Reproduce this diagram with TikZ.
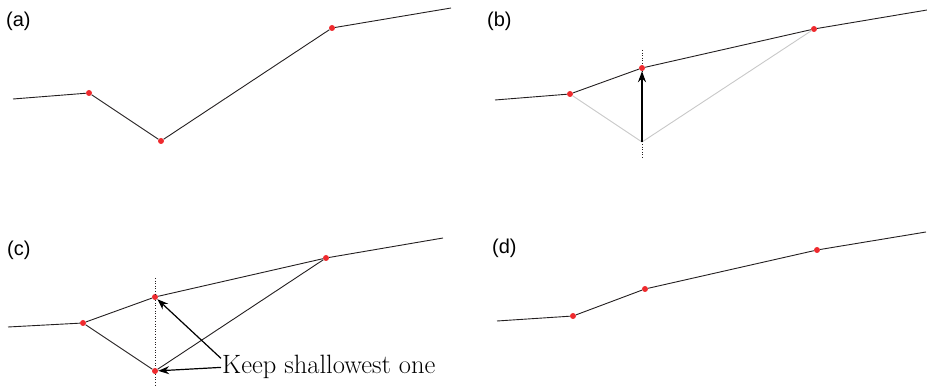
\documentclass[tikz,border=0pt]{standalone}
\usepackage{fontspec}
\setsansfont{Liberation Sans}
\usetikzlibrary{arrows.meta, positioning}
\definecolor{cLine}{HTML}{231F20}
\definecolor{cDot}{HTML}{EE2A2E}
\definecolor{cGuide}{HTML}{C8C8C8}

\begin{document}
\begin{tikzpicture}[
    x=1pt, y=-1pt,
    >={Stealth[length=11pt, width=8pt]},
    % Point and label styles
    dot/.style={circle, fill=cDot, inner sep=0pt, minimum size=6pt},
    panel_label/.style={anchor=west, font=\sffamily\fontsize{20}{24}\selectfont, inner sep=0pt},
    note/.style={anchor=base west, font=\fontsize{26.5}{30}\selectfont, inner sep=1pt},
    % Line styles
    curve/.style={draw=cLine, line width=0.9pt},
    guide/.style={draw=cGuide, line width=0.9pt},
    probe/.style={draw=cLine, dotted, line width=0.6pt},
    arrow/.style={->, draw=black, line width=1.2pt}
]
\useasboundingbox (0,0) rectangle (927,387);

% --- PANEL (a) ---
\node[panel_label] (la) at (6,21) {(a)};
\coordinate (a0) at (13,99);
\node[dot] (a1) at (89,93) {};
\node[dot] (a2) at (161,141) {};
\node[dot] (a3) at (332,28) {};
\coordinate (a4) at (451,8);
\draw[curve] (a0) -- (a1) -- (a2) -- (a3) -- (a4);

% --- PANEL (b) ---
\node[panel_label] (lb) at (487,21) {(b)};
\coordinate (b0) at (495,100);
\node[dot] (b1) at (570,94) {};
\node[dot] (b2) at (642,68) {};
\node[dot] (b3) at (814,29) {};
\coordinate (b4) at (927,10);
\coordinate (b2low) at (642,142);
\coordinate (btop) at (642,50);
\coordinate (bbot) at (642,158);
\draw[probe] (btop) -- (b2) -- (bbot);
\draw[guide] (b1) -- (b2low) -- (b3);
\draw[arrow] (b2low) -- (b2);
\draw[curve] (b0) -- (b1) -- (b2) -- (b3) -- (b4);

% --- PANEL (c) ---
\node[panel_label] (lc) at (7,250) {(c)};
\coordinate (c0) at (8,327);
\node[dot] (c1) at (83,323) {};
\node[dot] (c2) at (155,297) {};
\node[dot] (c3) at (326,258) {};
\coordinate (c4) at (443,238);
\node[dot] (c2low) at (155,371) {};
\coordinate (ctop) at (155,278);
\coordinate (cbot) at (155,387);
\draw[probe] (ctop) -- (c2) -- (c2low) -- (cbot);
\draw[curve] (c0) -- (c1) -- (c2) -- (c3) -- (c4);
\draw[curve] (c1) -- (c2low) -- (c3);

\node[note] (keep) at (221,374) {Keep shallowest one};
\draw[arrow] ([yshift=9pt]keep.west) -- (c2);
\draw[arrow] (keep.west) -- (c2low);

% --- PANEL (d) ---
\node[panel_label] (ld) at (492,248) {(d)};
\coordinate (d0) at (497,321);
\node[dot] (d1) at (573,316) {};
\node[dot] (d2) at (645,289) {};
\node[dot] (d3) at (817,250) {};
\coordinate (d4) at (926,232);
\draw[curve] (d0) -- (d1) -- (d2) -- (d3) -- (d4);

\end{tikzpicture}
\end{document}
